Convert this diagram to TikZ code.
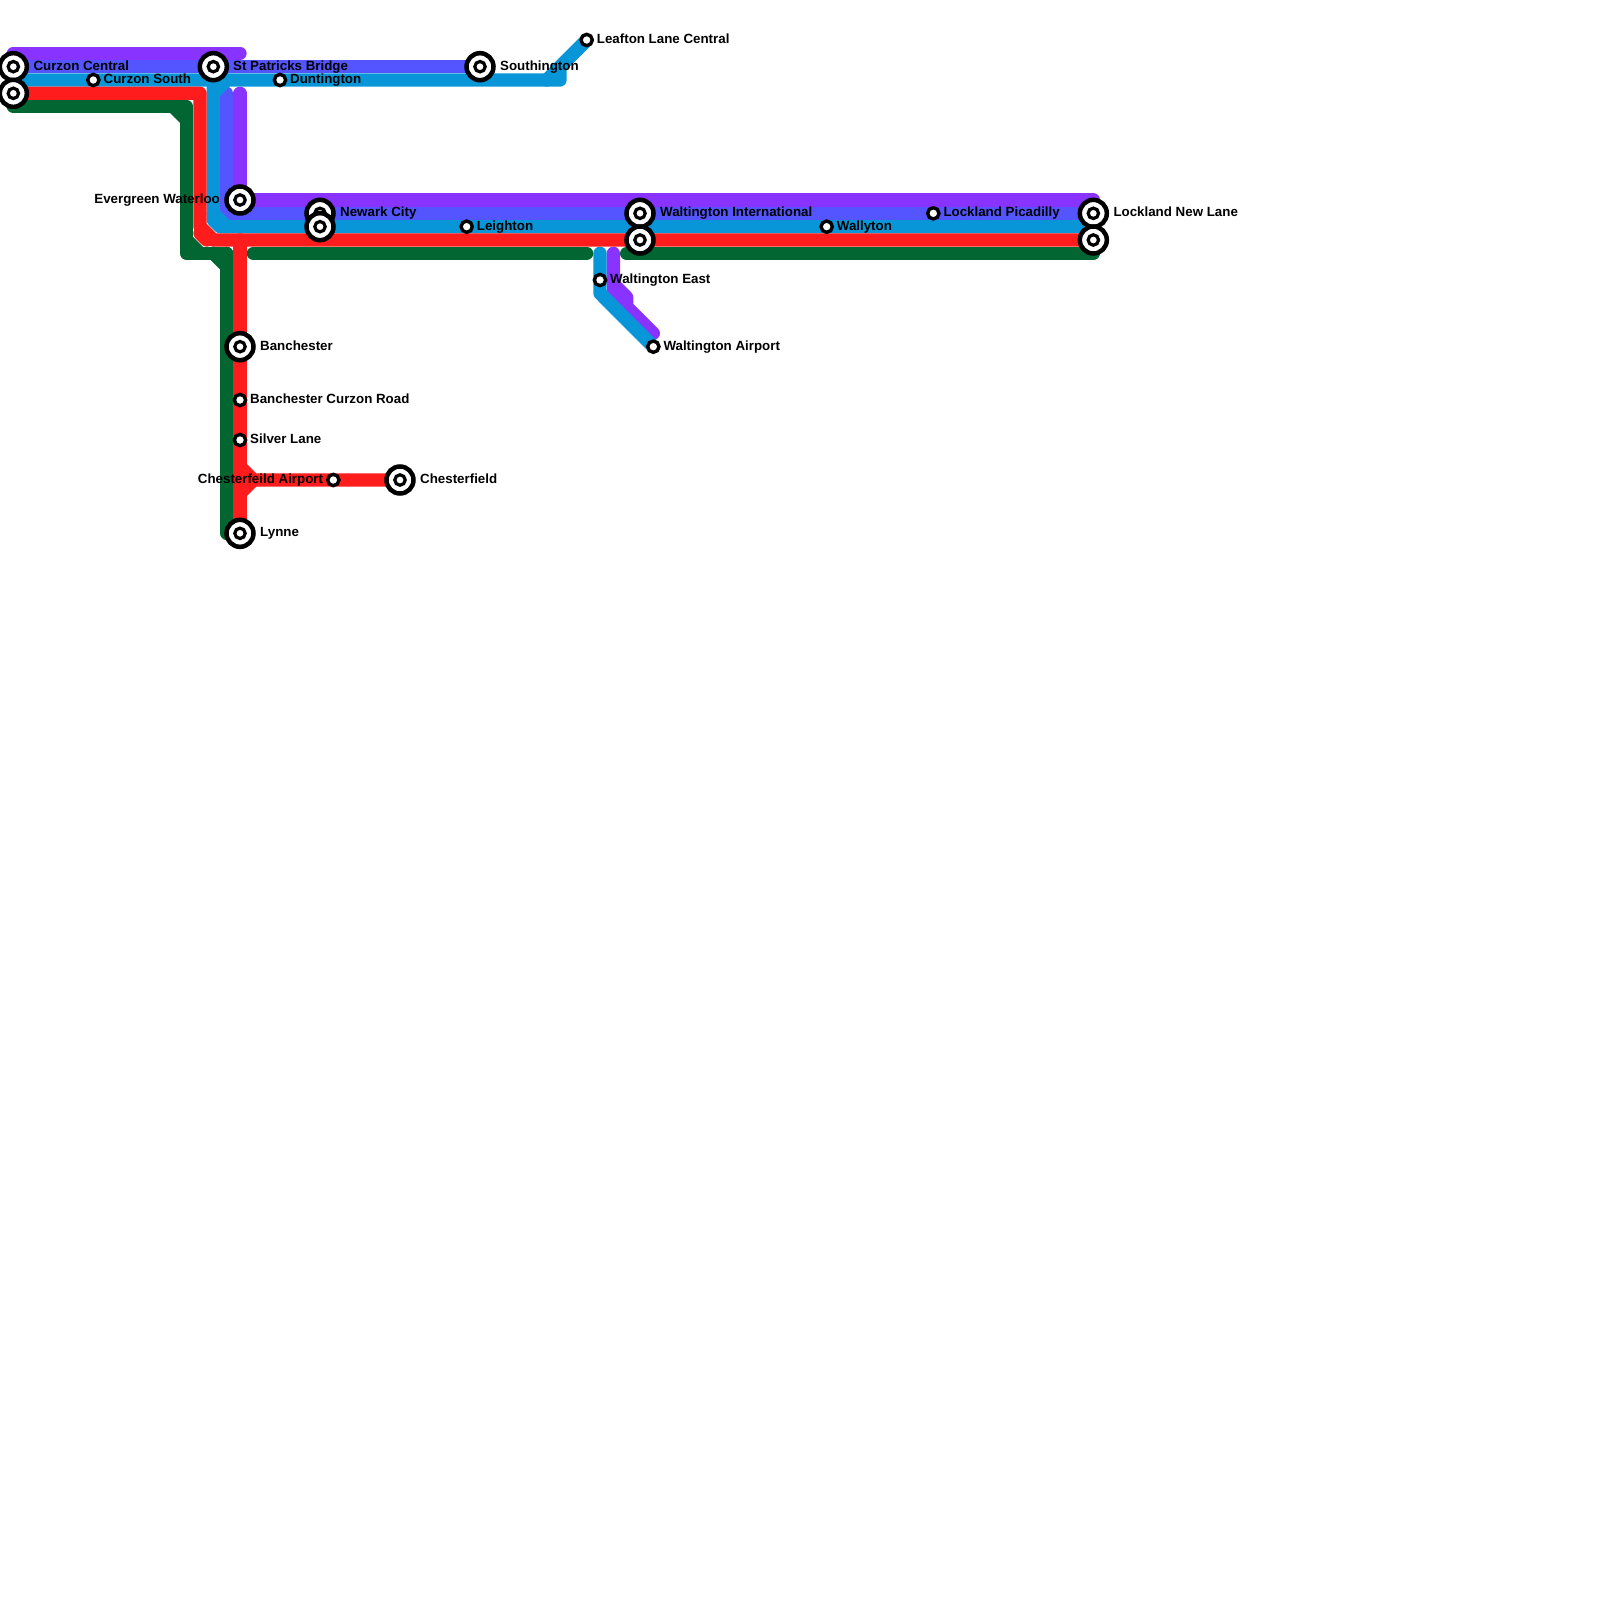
\documentclass[tikz,border=0pt]{standalone}
\usepackage{fontspec}
\setmainfont{Liberation Sans}
\usetikzlibrary{backgrounds}
\definecolor{cpurple}{HTML}{8833FF}
\definecolor{cindigo}{HTML}{5555FF}
\definecolor{ccyan}{HTML}{0996D8}
\definecolor{cred}{HTML}{FF1C1C}
\definecolor{cgreen}{HTML}{026633}
\tikzset{
  x=1pt,y=-1pt,
  route/.style={line width=13.33pt,line cap=round,line join=round},
  bigstn/.style={circle,draw=black,fill=white,line width=4.5pt,outer sep=0pt,minimum size=27pt,inner sep=0pt,
    path picture={\draw[black,line width=3.2pt,fill=white] (path picture bounding box.center) circle (5.2pt);}},
  smallstn/.style={circle,draw=black,fill=white,line width=3.4pt,outer sep=0pt,minimum size=11.3pt,inner sep=0pt},
  lbl/.style={font=\fontsize{13.33}{16}\selectfont\bfseries,inner sep=0pt,text=black},
  lblr/.style={lbl,anchor=mid west},
  lbll/.style={lbl,anchor=mid east},
}
\begin{document}
\begin{tikzpicture}
\useasboundingbox (0,0) rectangle (1600,1600);
\clip (0,0) rectangle (1600,1600);
% stations
\node[bigstn] (curzonC) at (13.33,66.67) {};
\node[bigstn] (curzonW) at (13.33,93.33) {};
\node[smallstn] (curzonS) at (93.33,80) {};
\node[bigstn] (patricks) at (213.33,66.67) {};
\node[smallstn] (duntington) at (280,80) {};
\node[bigstn] (southington) at (480,66.67) {};
\node[smallstn] (leafton) at (586.67,40) {};
\node[bigstn] (evergreen) at (240,200) {};
\node[bigstn] (newarkA) at (320,213.33) {};
\node[bigstn] (newarkB) at (320,226.67) {};
\node[smallstn] (leighton) at (466.67,226.67) {};
\node[bigstn] (waltA) at (640,213.33) {};
\node[bigstn] (waltB) at (640,240) {};
\node[smallstn] (wallyton) at (826.67,226.67) {};
\node[smallstn] (picadilly) at (933.33,213.33) {};
\node[bigstn] (lockA) at (1093.33,213.33) {};
\node[bigstn] (lockB) at (1093.33,240) {};
\node[smallstn] (waltE) at (600,280) {};
\node[smallstn] (waltAir) at (653.33,346.67) {};
\node[bigstn] (banchester) at (240,346.67) {};
\node[smallstn] (curzonRd) at (240,400) {};
\node[smallstn] (silver) at (240,440) {};
\node[smallstn] (chesterA) at (333.33,480) {};
\node[bigstn] (chester) at (400,480) {};
\node[bigstn] (lynne) at (240,533.33) {};
% labels
\node[lblr] (tCC) at (33.3,67.4) {Curzon Central};
\node[lblr] (tCS) at (103.5,80.7) {Curzon South};
\node[lblr] (tSP) at (233,67.4) {St Patricks Bridge};
\node[lblr] (tDu) at (290,80.7) {Duntington};
\node[lblr] (tSo) at (500,67.4) {Southington};
\node[lblr] (tLe) at (596.7,40.7) {Leafton Lane Central};
\node[lbll] (tEW) at (220,200.7) {Evergreen Waterloo};
\node[lblr] (tNC) at (340,214) {Newark City};
\node[lblr] (tLg) at (476.7,227.4) {Leighton};
\node[lblr] (tWI) at (660,214) {Waltington International};
\node[lblr] (tWy) at (836.7,227.4) {Wallyton};
\node[lblr] (tLP) at (943.3,214) {Lockland Picadilly};
\node[lblr] (tLN) at (1113.3,214) {Lockland New Lane};
\node[lblr] (tWE) at (610,280.7) {Waltington East};
\node[lblr] (tWA) at (663.3,347.4) {Waltington Airport};
\node[lblr] (tBa) at (260,347.4) {Banchester};
\node[lblr] (tBC) at (250,400.7) {Banchester Curzon Road};
\node[lblr] (tSL) at (250,440.7) {Silver Lane};
\node[lbll] (tCA) at (323.3,480.7) {Chesterfeild Airport};
\node[lblr] (tCh) at (420,480.7) {Chesterfield};
\node[lblr] (tLy) at (260,534) {Lynne};
% routes
\begin{pgfonlayer}{background}
% purple
\draw[route,cpurple] (13.33,53.33) -- (240,53.33);
\draw[route,cpurple] (240,93.33) -- (evergreen.center) -- (1093.33,200);
\draw[route,cpurple] (613.33,253.33) -- (613.33,284) -- (626.67,297.33) -- (626.67,306.67) -- (653.33,333.33);
\draw[route,cpurple] (613.33,284) -- (613.33,300);
\draw[route,cpurple] (613.33,300) -- (626.67,306.67);
% indigo
\draw[route,cindigo] (curzonC.center) -- (southington.center);
\draw[route,cindigo] (226.67,93.33) -- (226.67,213.33) -- (lockA.center);
% cyan
\draw[route,ccyan] (13.33,80) -- (560,80) -- (560,66.67) -- (leafton.center);
\draw[route,ccyan] (546.67,80) -- (leafton.center);
\draw[route,ccyan] (226.67,80) -- (213.33,93.33);
\draw[route,ccyan] (213.33,80) -- (213.33,220) -- (220,226.67) -- (1093.33,226.67);
\draw[route,ccyan] (213.33,213.33) -- (226.67,226.67);
\draw[route,ccyan] (600,253.33) -- (waltE.center) -- (600,293.33) -- (waltAir.center);
% green
\draw[route,cgreen] (13.33,106.67) -- (186.67,106.67) -- (186.67,253.33) -- (226.67,253.33);
\draw[route,cgreen,line cap=butt] (173.33,106.67) -- (186.67,120);
\draw[route,cgreen,line cap=butt] (186.67,240) -- (200,253.33);
\draw[route,cgreen] (213.33,253.33) -- (226.67,266.67) -- (226.67,533.33);
\draw[route,cgreen] (226.67,253.33) -- (226.67,266.67);
\draw[route,cgreen] (253.33,253.33) -- (586.67,253.33);
\draw[route,cgreen] (626.67,253.33) -- (1093.33,253.33);
% red
\draw[route,cred] (curzonW.center) -- (200,93.33) -- (200,226.67) -- (213.33,240) -- (lockB.center);
\draw[route,cred] (200,233.33) -- (206.67,240);
\draw[route,cred] (240,240) -- (banchester.center) -- (lynne.center);
\draw[route,cred] (240,466.67) -- (253.33,480) -- (chester.center);
\draw[route,cred] (253.33,480) -- (240,493.33);
\end{pgfonlayer}
\end{tikzpicture}
\end{document}
